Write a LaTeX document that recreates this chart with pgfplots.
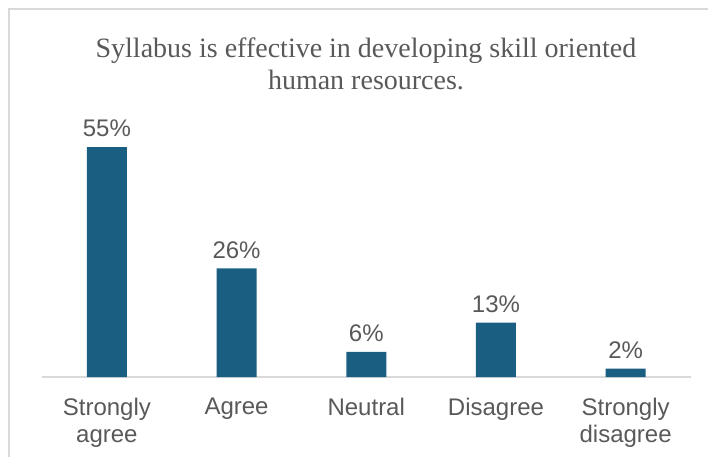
\documentclass[border=0pt]{standalone}
\usepackage{pgfplots}
\pgfplotsset{compat=1.18}
\usepackage{fontspec}
\setmainfont{Liberation Sans}
\newfontfamily\titlefont{Liberation Serif}
\definecolor{barblue}{HTML}{1A5E82}
\definecolor{txtgray}{HTML}{595959}
\definecolor{linegray}{HTML}{D9D9D9}
\begin{document}
\begin{tikzpicture}[x=0.5pt,y=0.5pt]
  \useasboundingbox (0,0) rectangle (708,457);
  % frame (only left and top visible in the crop)
  \draw[linegray, line width=0.6pt] (9,0) -- (9,448) -- (708,448);
  \node[anchor=base, align=center, text=txtgray, font=\titlefont\fontsize{14}{16}\selectfont]
    at (366,368) {Syllabus is effective in developing skill oriented\\human resources.};
  \begin{axis}[
      at={(21pt,40pt)}, anchor=south west,
      scale only axis,
      width=324.25pt, height=125.4pt,
      xmin=-0.5, xmax=4.5, ymin=0, ymax=60,
      axis y line=none,
      axis x line*=bottom,
      x axis line style={linegray, line width=0.8pt, -},
      xtick={0,1,2,3,4},
      xticklabels={Strongly agree, Agree, Neutral, Disagree, Strongly disagree},
      major tick length=0pt,
      xticklabel style={text=txtgray, font=\fontsize{12}{13.5}\selectfont,
        text width=70pt, align=center, anchor=north, yshift=-7pt},
      ybar, bar width=20pt,
      /pgf/number format/assume math mode=true,
      nodes near coords={\pgfmathprintnumber{\pgfplotspointmeta}\%},
      every node near coord/.append style={text=txtgray,
        font=\fontsize{12}{13}\selectfont, yshift=1.5pt},
      clip=false,
    ]
    \addplot[fill=barblue, draw=none] coordinates {(0,55) (1,26) (2,6) (3,13) (4,2)};
  \end{axis}
\end{tikzpicture}
\end{document}
